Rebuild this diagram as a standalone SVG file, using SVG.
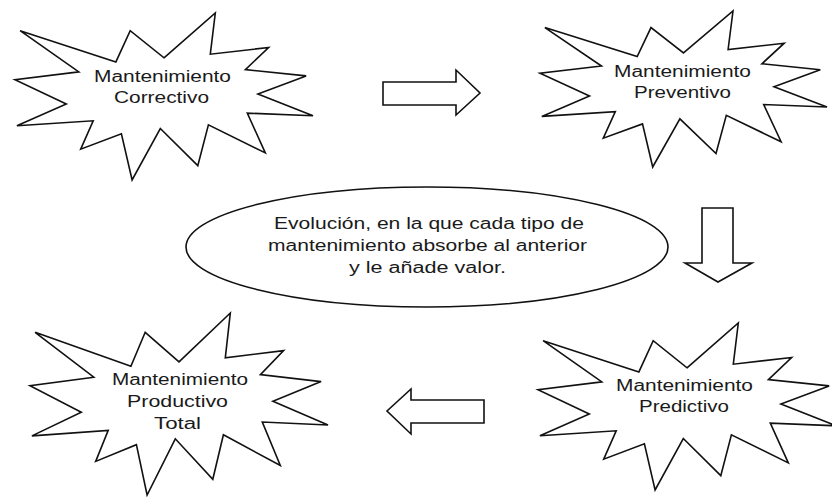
<svg xmlns="http://www.w3.org/2000/svg" width="832" height="497" viewBox="0 0 832 497">
<style>
.shape{fill:#fff;stroke:#111;stroke-width:1.6;stroke-linejoin:miter}
.lbl{font-family:"Liberation Sans",Arial,sans-serif;font-size:16px;fill:#1a1a1a}
</style>
<rect width="832" height="497" fill="#fff"/>
<g id="connectors">
<path class="shape" d="M383,82 L456,82 L456,70 L480,93 L456,115 L456,105 L383,105 Z"/>
<path class="shape" d="M702,208 L733,208 L733,263 L752,263 L718,282 L685,263 L702,263 Z"/>
<path class="shape" d="M484,400 L411,400 L411,389 L387,411 L411,434 L411,423 L484,423 Z"/>
</g>
<g id="correctivo">
<polygon class="shape" points="164,57.8 215.3,13 210.3,54.2 268.6,47.5 245.4,69.6 306.1,75.9 257.9,94 313,115.8 247.3,113.1 265.3,152.9 208.4,124.8 197.8,165.6 160.3,128.5 132.1,180 121.4,133.8 80.7,149.2 93.2,120.8 16.9,125.8 66.3,104 15,79.6 78.8,71.9 20.1,30.7 115.9,61.9 130.2,30.7"/>
<text class="lbl" x="94" y="81.5" textLength="137" lengthAdjust="spacingAndGlyphs">Mantenimiento</text>
<text class="lbl" x="114" y="102.5" textLength="95" lengthAdjust="spacingAndGlyphs">Correctivo</text>
</g>
<g id="preventivo">
<polygon class="shape" points="683.5,52.9 733,11 728.1,49.5 784.2,43.2 761.9,63.8 820.3,69.8 774,86.7 827,107 763.7,104.5 781.1,141.7 726.3,115.4 716,153.5 679.9,118.9 652.7,167 642.5,123.9 603.3,138.2 615.3,111.7 541.8,116.4 589.5,96 540,73.2 601.5,66 544.9,27.6 637.2,56.6 651,27.6"/>
<text class="lbl" x="614" y="76.5" textLength="137" lengthAdjust="spacingAndGlyphs">Mantenimiento</text>
<text class="lbl" x="634" y="97.5" textLength="97" lengthAdjust="spacingAndGlyphs">Preventivo</text>
</g>
<g id="evolucion">
<ellipse class="shape" cx="427" cy="247" rx="241" ry="60"/>
<text class="lbl" x="274" y="229" textLength="310" lengthAdjust="spacingAndGlyphs">Evolución, en la que cada tipo de</text>
<text class="lbl" x="268" y="251" textLength="319" lengthAdjust="spacingAndGlyphs">mantenimiento absorbe al anterior</text>
<text class="lbl" x="349" y="273" textLength="157" lengthAdjust="spacingAndGlyphs">y le añade valor.</text>
</g>
<g id="productivo-total">
<polygon class="shape" points="179,361.9 230.3,313 225.3,357.9 283.6,350.6 260.4,374.6 321.1,381.6 272.9,401.3 328,425 262.3,422 280.3,465.5 223.4,434.8 212.8,479.3 175.3,438.8 147.1,495 136.4,444.7 95.7,461.4 108.2,430.4 31.9,435.9 81.3,412.2 30,385.6 93.8,377.2 35.1,332.3 130.9,366.3 145.2,332.3"/>
<text class="lbl" x="112" y="385" textLength="136" lengthAdjust="spacingAndGlyphs">Mantenimiento</text>
<text class="lbl" x="127" y="407" textLength="101" lengthAdjust="spacingAndGlyphs">Productivo</text>
<text class="lbl" x="154" y="429" textLength="47" lengthAdjust="spacingAndGlyphs">Total</text>
</g>
<g id="predictivo">
<polygon class="shape" points="687,367.8 738.3,323 733.3,364.2 791.6,357.5 768.4,379.6 829.1,385.9 780.9,404 836,425.8 770.3,423.1 788.3,462.9 731.4,434.8 720.8,475.6 683.3,438.5 655.1,490 644.4,443.8 603.7,459.2 616.2,430.8 539.9,435.8 589.3,414 538,389.6 601.8,381.9 543.1,340.7 638.9,371.9 653.2,340.7"/>
<text class="lbl" x="616" y="390.5" textLength="137" lengthAdjust="spacingAndGlyphs">Mantenimiento</text>
<text class="lbl" x="639" y="412" textLength="90" lengthAdjust="spacingAndGlyphs">Predictivo</text>
</g>
</svg>
